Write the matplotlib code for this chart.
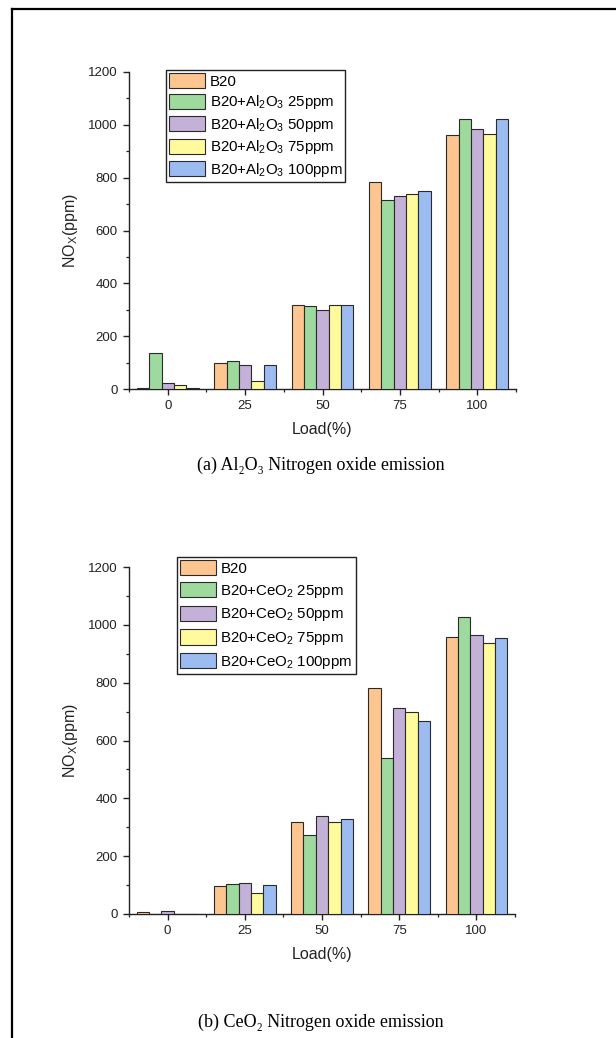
import matplotlib
matplotlib.use("Agg")
import matplotlib.pyplot as plt
import numpy as np
from matplotlib.lines import Line2D
from matplotlib.ticker import MultipleLocator, FixedLocator

plt.rcParams['font.family'] = ['Liberation Sans', 'DejaVu Sans']
plt.rcParams['mathtext.fontset'] = 'custom'
plt.rcParams['mathtext.rm'] = 'Liberation Sans'
plt.rcParams['mathtext.it'] = 'Liberation Sans'

loads = ['0', '25', '50', '75', '100']

al_labels = ['B20', 'B20+Al$_2$O$_3$ 25ppm', 'B20+Al$_2$O$_3$ 50ppm',
             'B20+Al$_2$O$_3$ 75ppm', 'B20+Al$_2$O$_3$ 100ppm']
al_b20 = [5, 98, 318, 782, 960]
al_25 = [137, 107, 315, 714, 1022]
al_50 = [21, 90, 300, 732, 985]
al_75 = [17, 32, 318, 738, 965]
al_100 = [2, 90, 318, 748, 1023]

ce_labels = ['B20', 'B20+CeO$_2$ 25ppm', 'B20+CeO$_2$ 50ppm',
             'B20+CeO$_2$ 75ppm', 'B20+CeO$_2$ 100ppm']
ce_b20 = [6, 98, 317, 782, 958]
ce_25 = [1, 105, 274, 540, 1026]
ce_50 = [12, 106, 339, 714, 966]
ce_75 = [1, 74, 319, 699, 936]
ce_100 = [1, 99, 327, 669, 955]

colors = ['#FDC691', '#9ED99E', '#C3B1D7', '#FFFB9D', '#9CBBF1']

captions = ['(a) Al\u2082O\u2083 Nitrogen oxide emission',
            '(b) CeO\u2082 Nitrogen oxide emission']

W, H = 616, 1038
fig = plt.figure(figsize=(W / 100, H / 100), dpi=100)


def fx(px):
    return px / W


def fy(py):
    return 1 - py / H


def draw(ax_rect, series, labels, leg_anchor, caption, cap_y, lspace):
    ax = fig.add_axes(ax_rect)
    x = np.arange(len(loads))
    bw = 0.16
    for i, (vals, lab) in enumerate(zip(series, labels)):
        ax.bar(x + (i - 2) * bw, vals, width=bw, color=colors[i],
               edgecolor='#2a2a2a', linewidth=0.8, label=lab, zorder=3)
    ax.set_xlim(-0.5, 4.5)
    ax.set_ylim(0, 1200)
    ax.set_xticks(x)
    ax.set_xticklabels(loads)
    ax.xaxis.set_minor_locator(FixedLocator(np.arange(-0.5, 4.6, 1.0)))
    ax.yaxis.set_major_locator(MultipleLocator(200))
    ax.yaxis.set_minor_locator(MultipleLocator(100))
    for s in ['top', 'right']:
        ax.spines[s].set_visible(False)
    for s in ['left', 'bottom']:
        ax.spines[s].set_linewidth(1.0)
        ax.spines[s].set_color('#222222')
    ax.tick_params(axis='both', which='major', direction='out', length=4,
                   width=1.0, labelsize=9.5, colors='#222222', pad=4)
    ax.tick_params(axis='both', which='minor', direction='out', length=2.5,
                   width=0.9, colors='#222222')
    ax.set_xlabel('Load(%)', fontsize=11.5, color='#222222', labelpad=7)
    ax.set_ylabel('NO$_X$(ppm)', fontsize=11.5, color='#222222', labelpad=6)
    leg = fig.legend(*ax.get_legend_handles_labels(), loc='upper left',
                     bbox_to_anchor=leg_anchor, fontsize=10.8, frameon=True,
                     fancybox=False, edgecolor='#222222', framealpha=1,
                     borderpad=0.2, handlelength=2.4, handleheight=1.2,
                     handletextpad=0.3, labelspacing=lspace, borderaxespad=0)
    leg.get_frame().set_linewidth(1.0)
    fig.text(0.52, fy(cap_y), caption, ha='center', va='center',
             fontsize=13, family=['Liberation Serif', 'DejaVu Serif'])
    return ax


draw([fx(129), fy(389), fx(516) - fx(129), fy(72) - fy(389)],
     [al_b20, al_25, al_50, al_75, al_100], al_labels,
     (fx(166), fy(70)), captions[0], 465, 0.3)

draw([fx(129), fy(914), fx(515) - fx(129), fy(567) - fy(914)],
     [ce_b20, ce_25, ce_50, ce_75, ce_100], ce_labels,
     (fx(177), fy(557)), captions[1], 1022, 0.4)

# outer frame (top and left)
fig.add_artist(Line2D([fx(12), 1.0], [fy(9), fy(9)], color='black', lw=1.6,
                      transform=fig.transFigure))
fig.add_artist(Line2D([fx(12), fx(12)], [fy(9), 0.0], color='black', lw=1.6,
                      transform=fig.transFigure))

fig.savefig('out.png', dpi=100, facecolor='white')
